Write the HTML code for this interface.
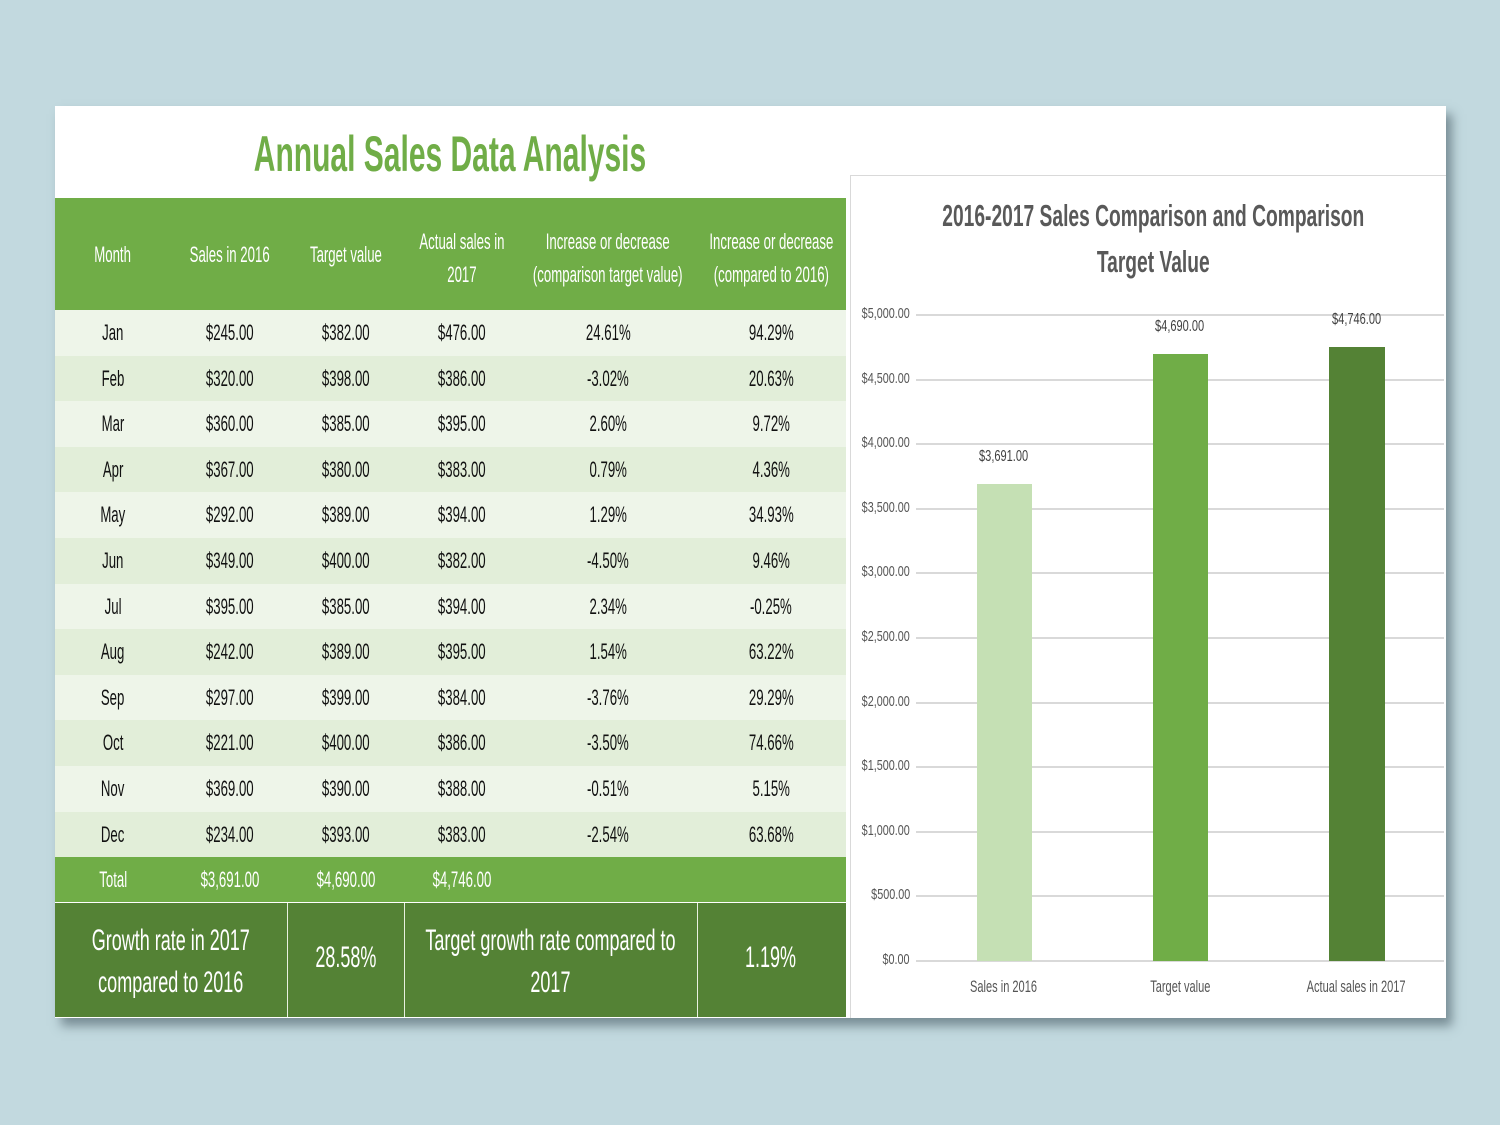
<!DOCTYPE html>
<html><head><style>
body{margin:0;width:1500px;height:1125px;background:#c2d9df;font-family:"Liberation Sans",sans-serif;position:relative;overflow:hidden}
.a{position:absolute;text-align:center;white-space:nowrap;width:1000px}
.s{display:inline-block;transform:scaleX(.6)}
.card{position:absolute;left:55px;top:106px;width:1391px;height:912px;background:#fff;box-shadow:6px 8px 10px rgba(60,80,90,.55)}
.row{position:absolute;left:55px;width:791px;height:45.6px}
.t{position:absolute;font-size:22px;color:#111;text-align:center;width:160px;line-height:45.6px;white-space:nowrap}
.yl{position:absolute;left:840px;width:70px;text-align:right;font-size:15px;color:#555;white-space:nowrap}
.gl{position:absolute;left:916px;width:528px;height:2px;background:#d9d9d9}
</style></head><body>
<div class="card"></div>
<div class="a" style="left:-50px;top:125px;font-size:50px;font-weight:bold;color:#70ad47"><span class="s">Annual Sales Data Analysis</span></div>
<div style="position:absolute;left:55px;top:198px;width:791px;height:112px;background:#70ad47"></div>
<div class="a" style="left:-387px;top:242px;font-size:22px;color:#fff"><span class="s">Month</span></div>
<div class="a" style="left:-270px;top:242px;font-size:22px;color:#fff"><span class="s">Sales in 2016</span></div>
<div class="a" style="left:-154px;top:242px;font-size:22px;color:#fff"><span class="s">Target value</span></div>
<div class="a" style="left:-38px;top:225px;font-size:22px;line-height:33px;color:#fff"><span class="s">Actual sales in<br>2017</span></div>
<div class="a" style="left:108px;top:225px;font-size:22px;line-height:33px;color:#fff"><span class="s">Increase or decrease<br>(comparison target value)</span></div>
<div class="a" style="left:271px;top:225px;font-size:22px;line-height:33px;color:#fff"><span class="s">Increase or decrease<br>(compared to 2016)</span></div>
<div id="rows"></div>
<div style="position:absolute;left:55px;top:857px;width:791px;height:45px;background:#70ad47"></div>
<div class="t" style="left:33px;top:857px;color:#fff"><span class="s">Total</span></div>
<div class="t" style="left:150px;top:857px;color:#fff"><span class="s">$3,691.00</span></div>
<div class="t" style="left:266px;top:857px;color:#fff"><span class="s">$4,690.00</span></div>
<div class="t" style="left:382px;top:857px;color:#fff"><span class="s">$4,746.00</span></div>
<div style="position:absolute;left:55px;top:903px;width:791px;height:114px;background:#548235"></div>
<div style="position:absolute;left:287px;top:903px;width:1px;height:114px;background:#e8f0e0"></div>
<div style="position:absolute;left:404px;top:903px;width:1px;height:114px;background:#e8f0e0"></div>
<div style="position:absolute;left:697px;top:903px;width:1px;height:114px;background:#e8f0e0"></div>
<div class="a" style="left:-329px;top:920px;font-size:30px;line-height:42px;color:#fff"><span class="s">Growth rate in 2017<br>compared to 2016</span></div>
<div class="a" style="left:-154px;top:941px;font-size:30px;color:#fff"><span class="s">28.58%</span></div>
<div class="a" style="left:50px;top:920px;font-size:30px;line-height:42px;color:#fff"><span class="s">Target growth rate compared to<br>2017</span></div>
<div class="a" style="left:271px;top:941px;font-size:30px;color:#fff"><span class="s">1.19%</span></div>

<div style="position:absolute;left:850px;top:175px;width:595px;height:842px;border:1px solid #d9d9d9;border-right:none;border-bottom:none"></div>
<div class="a" style="left:653px;top:193px;font-size:31px;line-height:46px;font-weight:bold;color:#595959"><span class="s" style="transform:scaleX(.62)">2016-2017 Sales Comparison and Comparison<br>Target Value</span></div>
<div id="axis"></div>
<div style="position:absolute;left:977px;top:484px;width:55px;height:477px;background:#c5e0b4"></div>
<div style="position:absolute;left:1153px;top:354px;width:55px;height:607px;background:#70ad47"></div>
<div style="position:absolute;left:1329px;top:347px;width:56px;height:614px;background:#548235"></div>
<div class="a" style="left:504px;top:448px;font-size:16px;color:#404040"><span class="s" style="transform:scaleX(.69)">$3,691.00</span></div>
<div class="a" style="left:680px;top:318px;font-size:16px;color:#404040"><span class="s" style="transform:scaleX(.69)">$4,690.00</span></div>
<div class="a" style="left:857px;top:311px;font-size:16px;color:#404040"><span class="s" style="transform:scaleX(.69)">$4,746.00</span></div>
<div class="a" style="left:504px;top:977px;font-size:17px;color:#555"><span class="s" style="transform:scaleX(.65)">Sales in 2016</span></div>
<div class="a" style="left:680px;top:977px;font-size:17px;color:#555"><span class="s" style="transform:scaleX(.65)">Target value</span></div>
<div class="a" style="left:856px;top:977px;font-size:17px;color:#555"><span class="s" style="transform:scaleX(.65)">Actual sales in 2017</span></div>
<script>
var d=[["Jan","$245.00","$382.00","$476.00","24.61%","94.29%"],["Feb","$320.00","$398.00","$386.00","-3.02%","20.63%"],["Mar","$360.00","$385.00","$395.00","2.60%","9.72%"],["Apr","$367.00","$380.00","$383.00","0.79%","4.36%"],["May","$292.00","$389.00","$394.00","1.29%","34.93%"],["Jun","$349.00","$400.00","$382.00","-4.50%","9.46%"],["Jul","$395.00","$385.00","$394.00","2.34%","-0.25%"],["Aug","$242.00","$389.00","$395.00","1.54%","63.22%"],["Sep","$297.00","$399.00","$384.00","-3.76%","29.29%"],["Oct","$221.00","$400.00","$386.00","-3.50%","74.66%"],["Nov","$369.00","$390.00","$388.00","-0.51%","5.15%"],["Dec","$234.00","$393.00","$383.00","-2.54%","63.68%"]];
var cx=[113,230,346,462,608,771],h="";
d.forEach(function(r,i){var y=310+i*45.6;h+='<div class="row" style="top:'+y+'px;background:'+(i%2?'#e2eed9':'#eef5e9')+'"></div>';
r.forEach(function(v,j){h+='<div class="t" style="left:'+(cx[j]-80)+'px;top:'+y+'px"><span class="s">'+v+'</span></div>';});});
document.getElementById("rows").innerHTML=h;
var a="";for(var k=0;k<=10;k++){var y=961-k*64.6;var v=k*500;a+='<div class="gl" style="top:'+(y-1)+'px"></div><div class="yl" style="top:'+(y-10)+'px"><span class="s" style="transform-origin:right;transform:scaleX(.72)">$'+(v>=1000?Math.floor(v/1000)+','+String(v%1000).padStart(3,'0'):v)+'.00</span></div>';}
document.getElementById("axis").innerHTML=a;
</script>
</body></html>
